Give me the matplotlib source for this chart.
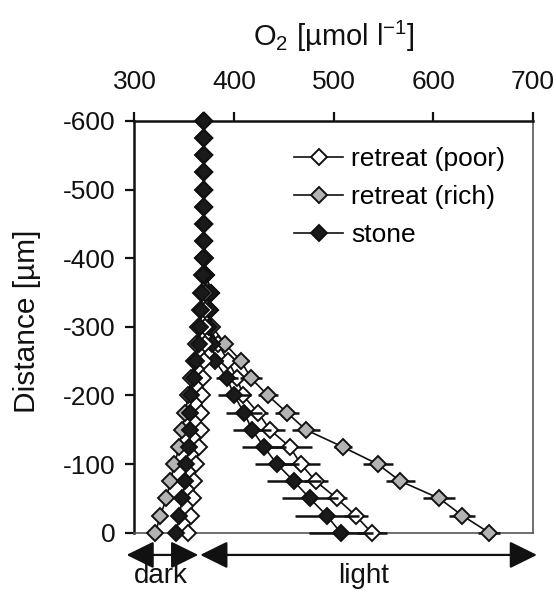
import numpy as np
import matplotlib
matplotlib.use("Agg")
import matplotlib.pyplot as plt
from matplotlib.lines import Line2D

plt.rcParams['font.family'] = ['Liberation Sans', 'DejaVu Sans']
plt.rcParams['mathtext.fontset'] = 'custom'
plt.rcParams['mathtext.rm'] = 'Liberation Sans'
plt.rcParams['mathtext.it'] = 'Liberation Sans:italic'
plt.rcParams['axes.unicode_minus'] = False

# depth below surface (µm), 25 µm steps
depth = [0, -25, -50, -75, -100, -125, -150, -175, -200, -225, -250, -275, -300,
         -325, -350, -375, -400, -425, -450, -475, -500, -525, -550, -575, -600]

# dark profiles
poor_dark = [354, 357, 359, 360, 362, 365, 367, 367, 368, 369, 370, 371, 371,
             371, 371, 370, 370, 370, 370, 370, 370, 370, 370, 370, 370]
rich_dark = [321, 326, 332, 336, 340, 345, 348, 351, 354, 357, 360, 362, 364,
             366, 367, 368, 369, 369, 369, 369, 369, 369, 369, 369, 369]
stone_dark = [342, 345, 348, 351, 352, 355, 356, 356, 357, 360, 362, 365, 366,
              367, 368, 369, 369, 370, 370, 370, 370, 370, 370, 370, 370]

# light profiles
poor_light = [538, 522, 503, 482, 467, 456, 436, 424, 409, 403, 394, 384, 375,
              376, 377, 372, 371, 370, 370, 370, 370, 370, 370, 370, 370]
rich_light = [656, 629, 606, 567, 544, 509, 472, 453, 434, 417, 407, 391, 378,
              375, 373, 370, 370, 370, 370, 370, 370, 370, 370, 370, 370]
stone_light = [507, 493, 476, 460, 443, 430, 418, 410, 400, 393, 381, 378, 375,
               376, 377, 372, 370, 370, 370, 370, 370, 370, 370, 370, 370]

# horizontal error (half width) for light profiles
poor_light_err = [15, 12, 10, 12, 19, 22, 15, 10, 8, 6, 5, 4, 0,
                  0, 0, 0, 0, 0, 0, 0, 0, 0, 0, 0, 0]
rich_light_err = [11, 13, 16, 15, 15, 9, 14, 12, 10, 11, 8, 6, 0,
                  0, 0, 0, 0, 0, 0, 0, 0, 0, 0, 0, 0]
stone_light_err = [32, 32, 28, 27, 22, 22, 19, 18, 16, 11, 8, 5, 0,
                   0, 0, 0, 0, 0, 0, 0, 0, 0, 0, 0, 0]

labels = ['retreat (poor)', 'retreat (rich)', 'stone']
fills = ['white', '#b3b3b3', '#1a1a1a']

x_ticks = [300, 400, 500, 600, 700]
y_ticks = [-600, -500, -400, -300, -200, -100, 0]

fig = plt.figure(figsize=(5.56, 5.94), dpi=100)
ax = fig.add_axes([0.2419, 0.1032, 0.7167, 0.6931])

ms = 7.8
mew = 1.4
lw = 1.2
ink = '#111111'

light_sets = [(poor_light, poor_light_err, fills[0]),
              (rich_light, rich_light_err, fills[1]),
              (stone_light, stone_light_err, fills[2])]
z = 3
for vals, err, fc in light_sets:
    ax.errorbar(vals, depth, xerr=err, fmt='none', ecolor=ink,
                elinewidth=1.8, capsize=0, zorder=z, clip_on=False)
    ax.plot(vals, depth, '-', color=ink, lw=lw, marker='D', ms=ms,
            mfc=fc, mec=ink, mew=mew, zorder=z + 0.5, clip_on=False)
    z += 1

for vals, fc in [(rich_dark, fills[1]), (poor_dark, fills[0]), (stone_dark, fills[2])]:
    ax.plot(vals, depth, '-', color=ink, lw=lw, marker='D', ms=ms,
            mfc=fc, mec=ink, mew=mew, zorder=z + 0.5, clip_on=False)
    z += 1

ax.set_xlim(300, 700)
ax.set_ylim(0, -600)
ax.xaxis.tick_top()
ax.xaxis.set_label_position('top')
ax.set_xticks(x_ticks)
ax.set_yticks(y_ticks)
ax.set_xticklabels([str(v) for v in x_ticks])
ax.set_yticklabels([str(v) for v in y_ticks])
ax.tick_params(axis='x', direction='out', length=6.5, width=1.6, pad=13,
               labelsize=19, colors=ink)
ax.tick_params(axis='y', direction='out', length=6.5, width=1.6, pad=7,
               labelsize=19, colors=ink)

for s in ['left', 'top']:
    ax.spines[s].set_linewidth(1.8)
    ax.spines[s].set_color(ink)
for s in ['right', 'bottom']:
    ax.spines[s].set_linewidth(1.2)
    ax.spines[s].set_color('#555555')

ax.set_xlabel('O$_2$ [µmol l$^{-1}$]', fontsize=21, labelpad=17, color=ink)
ax.set_ylabel('Distance [µm]', fontsize=21.5, color=ink)
ax.yaxis.set_label_coords(-0.235, 0.514)

handles = [Line2D([], [], color=ink, lw=lw, marker='D', ms=ms, mfc=fc,
                  mec=ink, mew=mew) for fc in fills]
leg = ax.legend(handles, labels, loc='upper right', bbox_to_anchor=(0.97, 0.975),
                frameon=False, fontsize=19, handlelength=1.85, handletextpad=0.3,
                labelspacing=0.53, borderaxespad=0.2)

# dark / light arrows below the plot
arrow_y = -0.054
ap = dict(arrowstyle='<|-|>,head_length=0.85,head_width=0.42', color=ink,
          lw=1.6, shrinkA=0, shrinkB=0, mutation_scale=20)
ax.annotate('', xy=(292, arrow_y), xytext=(364, arrow_y),
            xycoords=('data', 'axes fraction'), textcoords=('data', 'axes fraction'),
            arrowprops=ap, annotation_clip=False)
ax.annotate('', xy=(366, arrow_y), xytext=(704, arrow_y),
            xycoords=('data', 'axes fraction'), textcoords=('data', 'axes fraction'),
            arrowprops=ap, annotation_clip=False)
ax.text(326, -0.105, 'dark', transform=ax.get_xaxis_transform(), ha='center',
        va='center', fontsize=20, color=ink, clip_on=False)
ax.text(530, -0.105, 'light', transform=ax.get_xaxis_transform(), ha='center',
        va='center', fontsize=20, color=ink, clip_on=False)

fig.savefig('out.png', dpi=100)
